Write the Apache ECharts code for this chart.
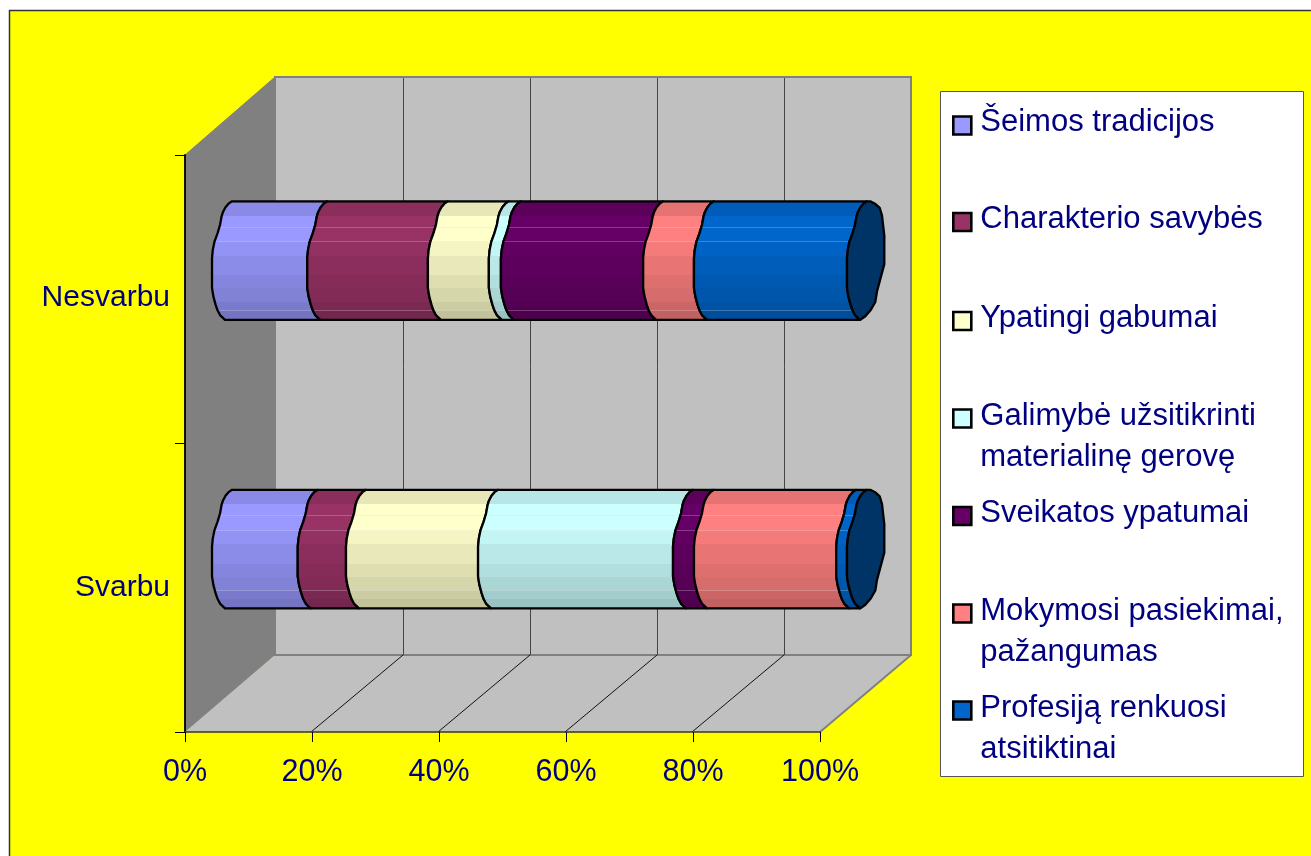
<!DOCTYPE html>
<html><head><meta charset="utf-8">
<style>html,body{margin:0;padding:0;background:#fff}#c{width:1311px;height:856px}</style>
<script src="https://cdn.jsdelivr.net/npm/echarts@6/dist/echarts.min.js"></script>
</head><body><div id="c"></div>
<script>
const categories = ['Svarbu', 'Nesvarbu'];
const seriesNames = ['Šeimos tradicijos', 'Charakterio savybės', 'Ypatingi gabumai', 'Galimybė užsitikrinti\nmaterialinę gerovę', 'Sveikatos ypatumai', 'Mokymosi pasiekimai,\npažangumas', 'Profesiją renkuosi\natsitiktinai'];
const seimos = [13.5, 15.0];
const charakterio = [7.6, 19.0];
const gabumai = [20.8, 9.6];
const galimybe = [30.7, 1.9];
const sveikata = [3.3, 22.4];
const mokymasis = [22.4, 8.0];
const profesija = [1.7, 24.1];
const tickValues = [0, 20, 40, 60, 80, 100];
const colors = ['#9999FF', '#993366', '#FFFFCC', '#CCFFFF', '#660066', '#FF8080', '#0066CC'];

const allValues = [seimos, charakterio, gabumai, galimybe, sveikata, mokymasis, profesija];
const NAVY = '#000080', FONT = '"Liberation Sans", Arial, sans-serif';
const WALL_DX = 90, WALL_DY = 77, GRID_DX = 92;
const BAR_DX = 27, BAR_DY = -38.7, BAR_H = 118.5;
const LEFT_EDGE = [[0,20],[.02,16.5],[.05,13.5],[.09,11],[.13,9.5],[.2,8],[.27,5.5],[.34,2.5],[.41,.8],[.48,0],[.73,0],[.8,1.3],[.87,3.5],[.92,5.5],[.96,8],[1,13]];
const CAP_RIGHT = [[0,23.3],[.02,28],[.056,32.7],[.12,35],[.29,37.3],[.53,37.3],[.76,30],[.85,28.3],[.92,23.5],[.97,18.3],[1,13.3]];
const BANDS = [[.02,.80],[.13,.90],[.22,1],[.34,1],[.46,.96],[.62,.91],[.73,.87],[.84,.84],[.91,.80],[1,.76]];
const SEAMS = [.22,.34,.84,.91];

function shade(hex, f) {
  const n = parseInt(hex.slice(1), 16);
  return 'rgb(' + [n >> 16, (n >> 8) & 255, n & 255].map(c => Math.round(c * f)).join(',') + ')';
}
function lighten(hex, f, t) {
  const n = parseInt(hex.slice(1), 16);
  return 'rgb(' + [n >> 16, (n >> 8) & 255, n & 255].map(c => Math.round(c * f + (215 - c * f) * t)).join(',') + ')';
}
function bandGradient(hex) {
  const stops = [];
  let prev = 0;
  BANDS.forEach(([end, f]) => {
    stops.push({offset: prev, color: shade(hex, f)}, {offset: end, color: shade(hex, f)});
    if (SEAMS.includes(end)) {
      stops.push({offset: end, color: lighten(hex, f, .28)}, {offset: Math.min(1, end + .007), color: lighten(hex, f, .28)});
      prev = end + .007;
    } else prev = end;
  });
  return {type: 'linear', x: 0, y: 0, x2: 0, y2: 1, colorStops: stops};
}
function edge(x, yTop, profile) { return profile.map(([fr, dx]) => [x + dx, yTop + fr * BAR_H]); }

function barItem(k) {
  return function (params, api) {
    const row = api.value(2);
    const c0 = api.coord([api.value(0), row]);
    const c1 = api.coord([api.value(1), row]);
    const yTop = c0[1] + BAR_DY - BAR_H / 2;
    const xL = c0[0] + BAR_DX, xR = c1[0] + BAR_DX;
    const pts = edge(xL, yTop, LEFT_EDGE).concat(edge(xR, yTop, LEFT_EDGE).reverse());
    const line = {stroke: '#000', lineWidth: 2.3, lineJoin: 'round'};
    const children = [{type: 'polygon', shape: {points: pts}, style: Object.assign({fill: bandGradient(colors[k])}, line)}];
    if (k === colors.length - 1) {
      const cap = edge(xR, yTop, LEFT_EDGE).concat(edge(xR, yTop, CAP_RIGHT).reverse());
      children.push({type: 'polygon', shape: {points: cap}, style: Object.assign({fill: '#003366'}, line)});
    }
    return {type: 'group', children};
  };
}
function wallsItem(params, api) {
  const g = params.coordSys;
  const L = g.x, R = g.x + g.width, T = g.y, B = g.y + g.height;
  const gray = '#808080', light = '#C0C0C0';
  const children = [
    {type: 'polygon', shape: {points: [[L, T], [L + WALL_DX, T - WALL_DY - 1], [L + WALL_DX, B - WALL_DY], [L, B]]}, style: {fill: gray, stroke: gray, lineWidth: 1}},
    {type: 'polygon', shape: {points: [[L, B], [L + WALL_DX, B - WALL_DY], [R + WALL_DX + 1, B - WALL_DY], [R, B]]}, style: {fill: light}},
    {type: 'rect', shape: {x: L + WALL_DX, y: T - WALL_DY - 1, width: g.width + 1, height: g.height + 1}, style: {fill: light, stroke: gray, lineWidth: 2}},
    {type: 'line', shape: {x1: R, y1: B, x2: R + WALL_DX + 1, y2: B - WALL_DY}, style: {stroke: gray, lineWidth: 2}}
  ];
  tickValues.slice(1, -1).forEach(t => {
    const x = api.coord([t, 0])[0];
    children.push({type: 'line', shape: {x1: x - 1, y1: B, x2: x - 1 + GRID_DX, y2: B - WALL_DY}, style: {stroke: '#111', lineWidth: 1}});
    children.push({type: 'line', shape: {x1: x - 1 + GRID_DX + .5, y1: T - WALL_DY, x2: x - 1 + GRID_DX + .5, y2: B - WALL_DY}, style: {stroke: '#444', lineWidth: 1}});
  });
  return {type: 'group', children};
}

const series = [{type: 'custom', name: 'walls', silent: true, z: 1, renderItem: wallsItem, data: [[0, 0]], encode: {x: 0, y: 1}, tooltip: {show: false}}];
const running = categories.map(() => 0);
seriesNames.forEach((name, k) => {
  const data = allValues[k].map((v, row) => {
    const d = [running[row], running[row] + v, row];
    running[row] += v;
    return d;
  });
  series.push({type: 'custom', name, z: 2 + k, renderItem: barItem(k), itemStyle: {color: colors[k]}, encode: {x: [0, 1], y: 2}, data});
});

const firstLineCenters = [122.5, 219, 318, 416, 513, 611, 708];
const legends = seriesNames.map((name, k) => {
  const two = name.includes('\n');
  const icon = two ? 'path://M0 0H18V18H0Z M22 54L22 54' : 'path://M22 0L22 0 M0 6H18V24H0Z';
  return {
    data: [name], left: 952, top: firstLineCenters[k] - 20.5, padding: 0, selectedMode: false,
    orient: 'vertical', itemWidth: 22, itemHeight: two ? 54 : 24, icon,
    itemStyle: {borderColor: '#000', borderWidth: 2.6},
    textStyle: {color: NAVY, fontFamily: FONT, fontSize: 31, lineHeight: 41}
  };
});

const chart = echarts.init(document.getElementById('c'), null, {renderer: 'canvas', width: 1311, height: 856});
chart.setOption({
  animation: false,
  backgroundColor: '#fff',
  color: colors,
  graphic: [
    {type: 'rect', z: -10, shape: {x: 9.5, y: 10.5, width: 1320, height: 860}, style: {fill: '#FFFF00', stroke: '#333', lineWidth: 1.5}},
    {type: 'rect', z: -9, shape: {x: 940.5, y: 91.5, width: 363, height: 685}, style: {fill: '#fff', stroke: '#555', lineWidth: 1}}
  ],
  legend: legends,
  grid: {left: 185, top: 155, width: 635, height: 577, containLabel: false},
  xAxis: {
    type: 'value', min: 0, max: 100, interval: 20, z: 50,
    axisLine: {show: true, lineStyle: {color: '#333', width: 1.5}},
    axisTick: {show: true, length: 10, lineStyle: {color: '#000', width: 1}},
    axisLabel: {formatter: '{value}%', color: NAVY, fontFamily: FONT, fontSize: 30.5, margin: 25},
    splitLine: {show: false}
  },
  yAxis: {
    type: 'category', data: categories, z: 50,
    axisLine: {show: true, lineStyle: {color: '#000', width: 1.8}},
    axisTick: {show: true, length: 10, alignWithLabel: false, lineStyle: {color: '#000', width: 1}},
    axisLabel: {
      color: NAVY, fontFamily: FONT, fontSize: 30, margin: 15,
      formatter: v => v === categories[1] ? '{up|' + v + '}' : v,
      rich: {up: {color: NAVY, fontFamily: FONT, fontSize: 30, padding: [0, 0, 4, 0]}}
    },
    splitLine: {show: false}
  },
  series
});
</script></body></html>
